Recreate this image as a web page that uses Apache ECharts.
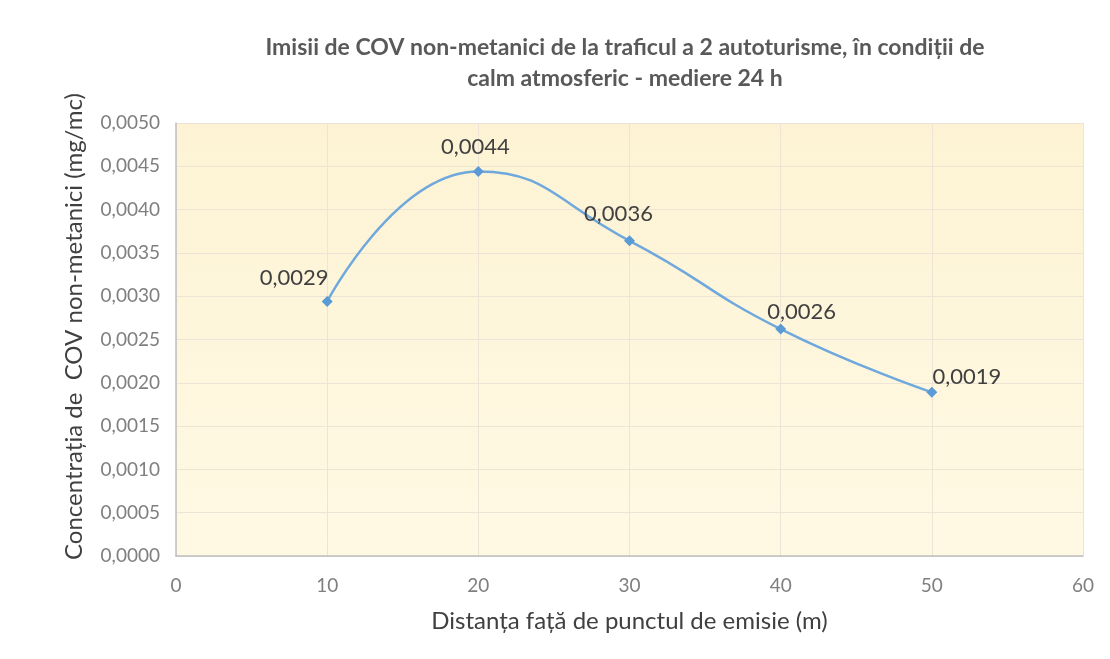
<!DOCTYPE html>
<html>
<head>
<meta charset="utf-8">
<script src="https://cdn.jsdelivr.net/npm/echarts@6/dist/echarts.min.js"></script>
<style>
  html, body { margin: 0; padding: 0; background: #fff; }
  #chart { width: 1110px; height: 659px; }
</style>
</head>
<body>
<div id="chart"></div>
<script>
// distanta (m) si concentratia (mg/mc)
const distances = [10, 20, 30, 40, 50]
const concentrations = [0.00294, 0.00444, 0.00364, 0.00262, 0.00189]

const titleText = 'Imisii de COV non-metanici de la traficul a 2 autoturisme, în condiții de\ncalm atmosferic - mediere 24 h'
const xName = 'Distanța față de punctul de emisie (m)'
const yName = 'Concentrația de  COV non-metanici (mg/mc)'

const fmt = v => v.toFixed(4).replace('.', ',')

// label offsets, per point (Excel put them around the marker)
const labelOffsets = [[-33, -2], [-3, -3], [-11, -5], [21, 4], [35, 6]]

const chart = echarts.init(document.getElementById('chart'))

const option = {
  backgroundColor: '#fff',
  textStyle: { fontFamily: 'Lato, "Open Sans", sans-serif' },
  title: {
    text: titleText,
    left: 620,
    textAlign: 'center',
    top: 27,
    textStyle: {
      fontSize: 23,
      fontWeight: 'bold',
      color: '#595959',
      lineHeight: 31,
      fontFamily: 'Lato, "Open Sans", sans-serif'
    }
  },
  grid: {
    left: 176,
    right: 27,
    top: 123,
    bottom: 103,
    show: true,
    borderWidth: 0,
    backgroundColor: {
      type: 'linear', x: 0, y: 0, x2: 0, y2: 1,
      colorStops: [
        { offset: 0, color: '#fdf3d4' },
        { offset: 1, color: '#fff9e4' }
      ]
    }
  },
  xAxis: {
    type: 'value',
    min: 0,
    max: 60,
    interval: 10,
    name: xName,
    nameLocation: 'middle',
    nameGap: 53,
    nameTextStyle: { fontSize: 24, color: '#404040' },
    axisLine: { show: true, lineStyle: { color: '#bfbfbf', width: 1.5 } },
    axisTick: { show: false },
    axisLabel: { fontSize: 19, color: '#7f7f7f', margin: 20 },
    splitLine: { show: true, lineStyle: { color: '#eee4d6', width: 1 } }
  },
  yAxis: {
    type: 'value',
    min: 0,
    max: 0.005,
    interval: 0.0005,
    name: yName,
    nameLocation: 'middle',
    nameGap: 90,
    nameTextStyle: { fontSize: 24, color: '#404040', padding: [0, 0, 0, 26] },
    axisLine: { show: true, lineStyle: { color: '#bfbfbf', width: 1.5 } },
    axisTick: { show: false },
    axisLabel: { fontSize: 19, color: '#7f7f7f', margin: 16, formatter: fmt },
    splitLine: { show: true, lineStyle: { color: '#eee4d6', width: 1 } }
  },
  series: [{
    type: 'line',
    data: distances.map((d, i) => ({
      value: [d, concentrations[i]],
      label: { offset: labelOffsets[i] }
    })),
    smooth: 0.5,
    symbol: 'diamond',
    symbolSize: 11,
    lineStyle: { color: '#6fa8dc', width: 2.5 },
    itemStyle: { color: '#5b9bd5' },
    label: {
      show: true,
      position: 'top',
      fontSize: 22,
      color: '#404040',
      formatter: p => fmt(p.value[1])
    }
  }]
}

chart.setOption(option)
</script>
</body>
</html>
